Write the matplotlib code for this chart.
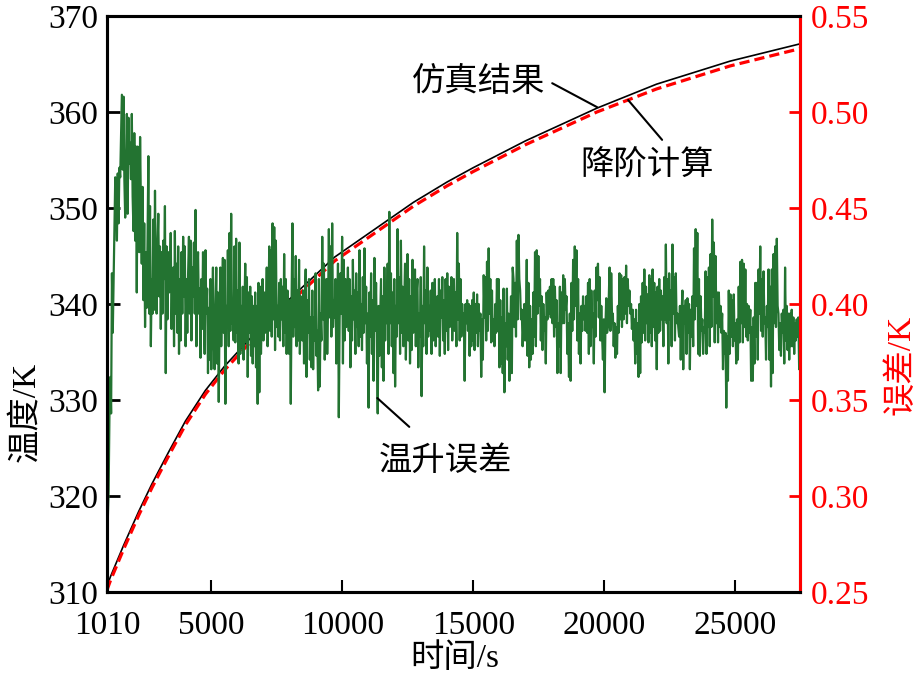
import numpy as np
import matplotlib.pyplot as plt

plt.rcParams['font.family'] = ['Liberation Serif', 'Noto Sans CJK SC']
plt.rcParams['font.size'] = 24

# temperature curves (left axis, K)
t_curve = [1010, 1144, 1652, 2224, 2735, 3369, 4006, 4770, 5495, 7155, 9713,
           12721, 13995, 15000, 17000, 19721, 22000, 24810, 27480]
temp_sim = [310.6, 311.6, 314.9, 318.4, 321.3, 324.6, 327.8, 331.0, 333.5, 338.4,
            344.9, 350.6, 352.7, 354.2, 357.0, 360.4, 362.9, 365.3, 367.1]
temp_rom = [310.2, 311.2, 314.5, 318.0, 320.9, 324.2, 327.4, 330.6, 333.1, 338.0,
            344.5, 350.2, 352.3, 353.8, 356.6, 360.0, 362.4, 364.8, 366.6]

err_a = [0.253, 0.288, 0.303, 0.343, 0.362, 0.343, 0.416, 0.385, 0.413, 0.438,
         0.466, 0.456, 0.433, 0.468, 0.442, 0.471, 0.466, 0.489, 0.509, 0.470,
         0.508, 0.465, 0.445, 0.470, 0.499, 0.447, 0.497, 0.473, 0.484, 0.465,
         0.499, 0.456, 0.438, 0.489, 0.433, 0.482, 0.406, 0.482, 0.461, 0.427,
         0.487, 0.451, 0.421, 0.461, 0.402, 0.442, 0.388, 0.427, 0.398, 0.433,
         0.477, 0.395, 0.451, 0.378, 0.413, 0.395, 0.444, 0.397, 0.459, 0.413,
         0.395, 0.430, 0.447, 0.404, 0.430, 0.387, 0.427, 0.395, 0.433, 0.413,
         0.451, 0.364, 0.430, 0.392, 0.427, 0.406, 0.416, 0.437, 0.387, 0.413,
         0.419, 0.378, 0.438, 0.395, 0.421, 0.385, 0.430, 0.374, 0.413, 0.381,
         0.427, 0.395, 0.435, 0.404, 0.430, 0.378, 0.413, 0.385, 0.416, 0.435,
         0.395, 0.433, 0.381, 0.419, 0.404, 0.432, 0.395, 0.449, 0.378, 0.413,
         0.427, 0.395, 0.408, 0.372, 0.413, 0.387, 0.427, 0.395, 0.374, 0.428,
         0.395, 0.408, 0.364, 0.398, 0.371, 0.413, 0.366, 0.395, 0.419, 0.381,
         0.366, 0.395, 0.419, 0.369, 0.406, 0.349, 0.395, 0.419, 0.378, 0.404,
         0.424, 0.385, 0.423]
err_b = [0.348, 0.399, 0.388, 0.428, 0.378, 0.437, 0.386, 0.447, 0.390, 0.399,
         0.381, 0.430, 0.380, 0.434, 0.385, 0.407, 0.369, 0.432, 0.374, 0.399,
         0.378, 0.409, 0.371, 0.395, 0.421, 0.380, 0.414, 0.362, 0.406, 0.385,
         0.409, 0.373, 0.404, 0.369, 0.399, 0.378, 0.406, 0.367, 0.399, 0.348,
         0.411, 0.354, 0.409, 0.374, 0.395, 0.413, 0.381, 0.406, 0.385, 0.397,
         0.419, 0.378, 0.399, 0.430, 0.386, 0.428, 0.383, 0.442, 0.392, 0.440,
         0.376, 0.433, 0.388, 0.399, 0.383, 0.411, 0.381, 0.413, 0.392, 0.409,
         0.378, 0.426, 0.385, 0.413, 0.374, 0.407, 0.388, 0.374, 0.402, 0.348,
         0.404, 0.442, 0.383, 0.413, 0.388, 0.425, 0.378, 0.407, 0.381, 0.423,
         0.374, 0.404, 0.390, 0.381, 0.407, 0.369, 0.399, 0.418, 0.362, 0.402,
         0.385, 0.413, 0.371, 0.393, 0.367, 0.407, 0.366, 0.393, 0.381, 0.416,
         0.373, 0.386, 0.355, 0.413, 0.357, 0.395, 0.381, 0.435, 0.392, 0.421,
         0.371, 0.395, 0.413, 0.374, 0.397, 0.439, 0.393, 0.430, 0.383, 0.442,
         0.388, 0.402, 0.393, 0.413, 0.369, 0.392, 0.421, 0.341, 0.392, 0.416,
         0.395, 0.435, 0.369, 0.423, 0.381, 0.413, 0.388, 0.399]
err_c = [0.419, 0.386, 0.413, 0.367, 0.404, 0.381, 0.423, 0.392, 0.407, 0.374,
         0.416, 0.388, 0.406, 0.378, 0.428, 0.383, 0.400, 0.376, 0.414, 0.385,
         0.429, 0.390, 0.409, 0.369, 0.395, 0.346, 0.406, 0.383, 0.416, 0.374,
         0.402, 0.360, 0.424, 0.386, 0.411, 0.378, 0.343, 0.399, 0.373, 0.392,
         0.413, 0.367, 0.404, 0.360, 0.419, 0.381, 0.407, 0.390, 0.421, 0.374,
         0.448, 0.390, 0.416, 0.378, 0.406, 0.364, 0.413, 0.357, 0.399, 0.383,
         0.439, 0.390, 0.414, 0.374, 0.433, 0.385, 0.409, 0.378, 0.399, 0.421,
         0.371, 0.404, 0.426, 0.381, 0.413, 0.369, 0.404, 0.376, 0.423, 0.385,
         0.392, 0.418, 0.378, 0.406, 0.413, 0.367, 0.395, 0.383, 0.414, 0.352,
         0.399, 0.378, 0.430, 0.390, 0.407, 0.374, 0.419, 0.383, 0.399, 0.386,
         0.407, 0.374, 0.411, 0.381, 0.399, 0.413, 0.378, 0.395, 0.404, 0.383,
         0.413, 0.373, 0.407, 0.393, 0.414, 0.381, 0.402, 0.374, 0.413, 0.386,
         0.416, 0.376, 0.409, 0.388, 0.395, 0.414, 0.381, 0.400, 0.413, 0.386,
         0.406, 0.378, 0.437, 0.392, 0.421, 0.381, 0.413, 0.383, 0.400, 0.390,
         0.395, 0.360, 0.400, 0.390]
err_d = [0.402, 0.386, 0.400, 0.373, 0.399, 0.378, 0.402, 0.381, 0.406, 0.376,
         0.400, 0.385, 0.405, 0.378, 0.400, 0.386, 0.395, 0.362, 0.392, 0.371,
         0.415, 0.393, 0.414, 0.381, 0.422, 0.386, 0.429, 0.395, 0.413, 0.380,
         0.407, 0.381, 0.392, 0.378, 0.400, 0.385, 0.413, 0.386, 0.413, 0.367,
         0.402, 0.369, 0.393, 0.364, 0.408, 0.354, 0.390, 0.378, 0.408, 0.371,
         0.395, 0.360, 0.386, 0.404, 0.364, 0.419, 0.413, 0.388, 0.411, 0.383,
         0.433, 0.392, 0.436, 0.413, 0.407, 0.392, 0.397, 0.378, 0.390, 0.400,
         0.381, 0.392, 0.423, 0.373, 0.411, 0.367, 0.399, 0.371, 0.392, 0.374,
         0.406, 0.383, 0.427, 0.378, 0.428, 0.395, 0.425, 0.399, 0.413, 0.381,
         0.404, 0.376, 0.400, 0.386, 0.393, 0.369, 0.406, 0.392, 0.407, 0.395,
         0.409, 0.393, 0.413, 0.390, 0.413, 0.383, 0.409, 0.388, 0.402, 0.364,
         0.390, 0.378, 0.409, 0.364, 0.406, 0.390, 0.415, 0.390, 0.413, 0.397,
         0.404, 0.374, 0.390, 0.362, 0.395, 0.360, 0.411, 0.386, 0.423, 0.392,
         0.430, 0.399, 0.428, 0.381, 0.413, 0.374, 0.395, 0.369, 0.399, 0.386,
         0.404, 0.392, 0.399, 0.386]
err_e = [0.404, 0.385, 0.411, 0.374, 0.413, 0.378, 0.407, 0.388, 0.395, 0.369,
         0.407, 0.383, 0.419, 0.402, 0.421, 0.393, 0.414, 0.381, 0.399, 0.383,
         0.371, 0.392, 0.354, 0.388, 0.403, 0.385, 0.388, 0.402, 0.419, 0.386,
         0.416, 0.393, 0.395, 0.378, 0.390, 0.372, 0.388, 0.374, 0.399, 0.385,
         0.416, 0.392, 0.415, 0.388, 0.413, 0.392, 0.414, 0.395, 0.420, 0.390,
         0.413, 0.399, 0.407, 0.395, 0.400, 0.387, 0.397, 0.381, 0.392, 0.369,
         0.397, 0.374, 0.390, 0.362, 0.400, 0.364, 0.404, 0.380, 0.411, 0.385,
         0.418, 0.381, 0.409, 0.390, 0.405, 0.380, 0.415, 0.385, 0.413, 0.378,
         0.418, 0.388, 0.411, 0.381, 0.406, 0.366, 0.409, 0.385, 0.413, 0.386,
         0.407, 0.392, 0.404, 0.378, 0.414, 0.392, 0.431, 0.390, 0.413, 0.369,
         0.416, 0.392, 0.407, 0.378, 0.431, 0.395, 0.414, 0.381, 0.416, 0.390,
         0.395, 0.388, 0.383, 0.399, 0.371, 0.395, 0.407, 0.366, 0.399, 0.390,
         0.402, 0.374, 0.403, 0.385, 0.400, 0.366, 0.397, 0.383, 0.404, 0.378,
         0.429, 0.392, 0.439, 0.399, 0.437, 0.374, 0.413, 0.373, 0.404, 0.386,
         0.392, 0.374, 0.388, 0.385]
err_f = [0.417, 0.374, 0.414, 0.388, 0.419, 0.378, 0.426, 0.388, 0.444, 0.404,
         0.432, 0.380, 0.425, 0.390, 0.406, 0.380, 0.406, 0.388, 0.399, 0.385,
         0.395, 0.366, 0.386, 0.374, 0.385, 0.346, 0.383, 0.360, 0.407, 0.374,
         0.405, 0.383, 0.402, 0.378, 0.405, 0.381, 0.390, 0.369, 0.392, 0.371,
         0.409, 0.380, 0.422, 0.390, 0.423, 0.380, 0.421, 0.388, 0.418, 0.383,
         0.400, 0.381, 0.399, 0.385, 0.397, 0.360, 0.388, 0.360, 0.393, 0.369,
         0.411, 0.383, 0.411, 0.371, 0.418, 0.395, 0.430, 0.386, 0.413, 0.383,
         0.417, 0.390, 0.393, 0.371, 0.399, 0.388, 0.418, 0.371, 0.409, 0.357,
         0.418, 0.364, 0.426, 0.390, 0.430, 0.388, 0.434, 0.399, 0.395, 0.376,
         0.390, 0.373, 0.395, 0.385, 0.397, 0.369, 0.419, 0.381, 0.399, 0.376,
         0.395, 0.371, 0.395, 0.378, 0.397, 0.378, 0.393, 0.374, 0.390, 0.381,
         0.392, 0.383, 0.393, 0.366, 0.388]

err = np.concatenate([err_a, err_b, err_c, err_d, err_e, err_f])
t_err = np.linspace(1010, 27480, len(err))

x_ticks = [1010, 5000, 10000, 15000, 20000, 25000]
left_ticks = [310, 320, 330, 340, 350, 360, 370]
right_ticks = [0.25, 0.30, 0.35, 0.40, 0.45, 0.50, 0.55]

fig = plt.figure(figsize=(9.19, 6.76), dpi=100)
ax = fig.add_axes([0.1164, 0.1243, 0.7541, 0.852])

ax.plot(t_curve, temp_sim, color='black', lw=1.2)
ax.plot(t_curve, temp_rom, color='red', lw=2.3, dashes=(3.2, 1.6))

ax2 = ax.twinx()
ax2.plot(t_err, err, color='#237331', lw=1.6)

ax.set_xlim(1010, 27480)
ax.set_ylim(310, 370)
ax2.set_ylim(0.25, 0.55)

ax.set_xticks(x_ticks)
ax.set_xticklabels([str(v) for v in x_ticks])
ax.set_yticks(left_ticks)
ax2.set_yticks(right_ticks)
ax2.set_yticklabels(['%.2f' % v for v in right_ticks])

for s in ax.spines.values():
    s.set_linewidth(2.2)
for s in ax2.spines.values():
    s.set_linewidth(2.2)
ax2.spines['right'].set_color('red')

ax.tick_params(axis='x', direction='in', length=9, width=1.5, labelsize=24, pad=13)
ax.tick_params(axis='y', direction='in', length=9, width=2, labelsize=24, pad=6)
ax2.tick_params(axis='y', direction='in', length=8, width=2, labelsize=24, pad=8,
                colors='red')

# axis titles
fig.text(0.495, 0.026, '时间/s', fontsize=24, ha='center', va='center')
fig.text(0.028, 0.39, '温度/K', fontsize=24, ha='center', va='center', rotation=90)
fig.text(0.981, 0.46, '误差/K', fontsize=24, ha='center', va='center', rotation=90,
         color='red')

# annotations (positions in left-axis data coords)
cjk = ['Noto Sans CJK SC']
ax2.text(15190, 363.2, '仿真结果', transform=ax.transData, fontsize=24,
         family=cjk, ha='center', va='center')
ax2.annotate('', xy=(19734, 360.5), xytext=(18016, 363.0),
             xycoords=ax.transData, textcoords=ax.transData,
             arrowprops=dict(arrowstyle='-', lw=1.5, color='black',
                             shrinkA=0, shrinkB=0))
ax2.text(21640, 354.5, '降阶计算', transform=ax.transData, fontsize=24,
         family=cjk, ha='center', va='center')
ax2.annotate('', xy=(20916, 361.25), xytext=(22213, 357.1),
             xycoords=ax.transData, textcoords=ax.transData,
             arrowprops=dict(arrowstyle='-', lw=1.5, color='black',
                             shrinkA=0, shrinkB=0))
ax2.text(13930, 323.75, '温升误差', transform=ax.transData, fontsize=24,
         family=cjk, ha='center', va='center')
ax2.annotate('', xy=(11335, 330.2), xytext=(12557, 327.2),
             xycoords=ax.transData, textcoords=ax.transData,
             arrowprops=dict(arrowstyle='-', lw=1.5, color='black',
                             shrinkA=0, shrinkB=0))

fig.savefig('out.png', dpi=100)
